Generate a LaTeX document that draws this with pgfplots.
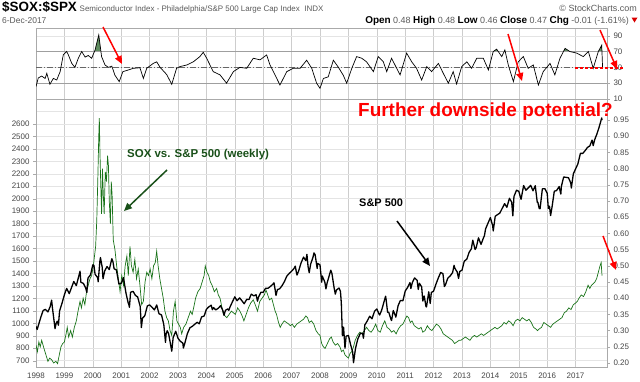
\documentclass[border=0pt]{standalone}
\usepackage{pgfplots}
\pgfplotsset{compat=1.18}
\usepackage{pgfplotstable}
\usepackage{fontspec}
\setmainfont{Liberation Sans}
\usetikzlibrary{arrows.meta}
\definecolor{gridc}{RGB}{228,228,228}
\definecolor{gridmaj}{RGB}{205,205,205}
\definecolor{framec}{RGB}{170,170,170}
\definecolor{labc}{RGB}{70,70,70}
\definecolor{sxgreen}{RGB}{25,115,25}
\definecolor{annogreen}{RGB}{25,80,25}
\definecolor{rsifill}{RGB}{95,140,95}
\definecolor{hdrgray}{RGB}{90,90,90}
\pgfplotsset{
  base/.style={
    scale only axis, width=571bp,
    xmin=1998, xmax=2018.106,
    axis line style={framec},
    tick style={framec},
    tick align=outside,
    major tick length=3bp, minor tick length=0pt,
    tick label style={font=\fontsize{8}{9}\selectfont, text=labc},
    /pgf/number format/assume math mode=true,
    /pgf/number format/1000 sep={},
    clip=true,
  }
}
\pgfplotstableread{
t v
1998.00 975
1998.04 950
1998.08 980
1998.17 1049
1998.25 1102
1998.33 1112
1998.42 1091
1998.50 1134
1998.55 1186
1998.58 1121
1998.67 957
1998.71 1000
1998.75 1017
1998.79 984
1998.83 1099
1998.92 1164
1999.00 1229
1999.08 1280
1999.17 1238
1999.25 1286
1999.33 1335
1999.42 1302
1999.50 1373
1999.55 1418
1999.58 1329
1999.67 1320
1999.75 1283
1999.79 1247
1999.83 1363
1999.92 1389
2000.00 1469
2000.04 1465
2000.08 1394
2000.17 1366
2000.19 1333
2000.25 1499
2000.27 1527
2000.33 1452
2000.36 1357
2000.42 1421
2000.50 1455
2000.58 1431
2000.67 1518
2000.71 1494
2000.75 1437
2000.83 1429
2000.92 1315
2001.00 1320
2001.08 1366
2001.17 1240
2001.25 1160
2001.27 1150
2001.29 1128
2001.33 1249
2001.42 1256
2001.50 1224
2001.58 1211
2001.67 1134
2001.71 966
2001.75 1041
2001.83 1060
2001.92 1139
2002.00 1148
2002.08 1130
2002.17 1107
2002.25 1147
2002.33 1077
2002.42 1067
2002.50 990
2002.56 847
2002.58 912
2002.62 940
2002.67 916
2002.75 815
2002.78 776
2002.83 886
2002.92 936
2003.00 880
2003.08 856
2003.17 841
2003.19 801
2003.25 848
2003.33 917
2003.42 964
2003.50 975
2003.58 990
2003.67 1008
2003.75 996
2003.83 1051
2003.92 1058
2004.00 1112
2004.08 1131
2004.17 1145
2004.21 1109
2004.25 1126
2004.33 1107
2004.42 1121
2004.50 1141
2004.58 1102
2004.62 1064
2004.67 1104
2004.75 1115
2004.79 1104
2004.83 1130
2004.92 1174
2005.00 1212
2005.08 1181
2005.17 1204
2005.25 1181
2005.33 1157
2005.42 1192
2005.50 1191
2005.58 1234
2005.67 1220
2005.75 1229
2005.80 1177
2005.83 1207
2005.92 1249
2006.00 1248
2006.08 1280
2006.17 1281
2006.25 1295
2006.33 1311
2006.38 1325
2006.42 1270
2006.45 1223
2006.50 1270
2006.58 1277
2006.67 1304
2006.75 1336
2006.83 1378
2006.92 1401
2007.00 1418
2007.08 1438
2007.13 1459
2007.17 1407
2007.19 1387
2007.25 1421
2007.33 1482
2007.42 1531
2007.50 1503
2007.54 1553
2007.58 1455
2007.62 1406
2007.67 1474
2007.75 1527
2007.79 1565
2007.83 1549
2007.90 1440
2007.92 1481
2008.00 1468
2008.06 1330
2008.08 1379
2008.17 1331
2008.21 1276
2008.25 1323
2008.33 1386
2008.38 1426
2008.42 1400
2008.50 1280
2008.54 1234
2008.58 1267
2008.67 1283
2008.72 1256
2008.75 1165
2008.79 900
2008.83 969
2008.88 800
2008.92 896
2009.00 903
2009.08 826
2009.15 770
2009.18 683
2009.25 798
2009.33 873
2009.42 919
2009.50 919
2009.53 880
2009.58 987
2009.67 1021
2009.75 1057
2009.83 1036
2009.92 1096
2010.00 1115
2010.08 1074
2010.10 1066
2010.17 1104
2010.25 1169
2010.31 1217
2010.33 1187
2010.38 1088
2010.42 1089
2010.50 1031
2010.52 1022
2010.58 1102
2010.65 1064
2010.67 1049
2010.75 1141
2010.83 1183
2010.92 1181
2011.00 1258
2011.08 1286
2011.17 1327
2011.20 1279
2011.25 1326
2011.33 1364
2011.42 1345
2011.46 1271
2011.50 1321
2011.58 1292
2011.62 1178
2011.67 1219
2011.73 1136
2011.75 1131
2011.83 1253
2011.88 1159
2011.92 1247
2012.00 1258
2012.08 1312
2012.17 1366
2012.25 1408
2012.33 1398
2012.38 1295
2012.42 1310
2012.50 1362
2012.58 1379
2012.67 1407
2012.72 1465
2012.75 1441
2012.83 1412
2012.88 1360
2012.92 1416
2013.00 1426
2013.08 1498
2013.17 1515
2013.25 1569
2013.33 1598
2013.38 1667
2013.42 1631
2013.46 1592
2013.50 1606
2013.58 1686
2013.67 1633
2013.75 1682
2013.79 1703
2013.83 1757
2013.92 1806
2014.00 1848
2014.08 1783
2014.10 1741
2014.17 1859
2014.25 1872
2014.33 1884
2014.42 1924
2014.50 1960
2014.58 1931
2014.67 2003
2014.75 1972
2014.79 1862
2014.83 2018
2014.92 2068
2015.00 2059
2015.08 1995
2015.17 2105
2015.25 2068
2015.33 2086
2015.42 2107
2015.50 2063
2015.58 2104
2015.65 1971
2015.67 1972
2015.72 1921
2015.75 1920
2015.83 2079
2015.92 2080
2016.00 2044
2016.04 1922
2016.08 1940
2016.12 1865
2016.17 1932
2016.25 2060
2016.33 2065
2016.42 2097
2016.48 2037
2016.50 2099
2016.58 2174
2016.67 2171
2016.75 2168
2016.83 2126
2016.85 2085
2016.92 2199
2017.00 2239
2017.08 2279
2017.17 2364
2017.25 2363
2017.33 2384
2017.42 2412
2017.50 2423
2017.58 2470
2017.62 2426
2017.67 2472
2017.75 2519
2017.83 2575
2017.92 2648
2017.93 2630
}\spx
\pgfplotstableread{
t v
1998.00 0.255
1998.05 0.235
1998.10 0.265
1998.15 0.250
1998.20 0.270
1998.28 0.245
1998.35 0.225
1998.42 0.205
1998.48 0.215
1998.55 0.210
1998.62 0.200
1998.70 0.205
1998.76 0.198
1998.82 0.225
1998.88 0.250
1998.94 0.260
1999.00 0.265
1999.06 0.290
1999.10 0.310
1999.15 0.280
1999.22 0.300
1999.28 0.280
1999.35 0.310
1999.42 0.330
1999.48 0.360
1999.55 0.390
1999.60 0.370
1999.66 0.400
1999.72 0.380
1999.78 0.420
1999.84 0.440
1999.90 0.460
1999.96 0.470
2000.02 0.500
2000.06 0.530
2000.10 0.560
2000.14 0.640
2000.18 0.780
2000.21 0.900
2000.23 0.956
2000.25 0.860
2000.28 0.750
2000.31 0.660
2000.34 0.800
2000.37 0.720
2000.40 0.660
2000.44 0.790
2000.48 0.760
2000.52 0.840
2000.55 0.810
2000.58 0.700
2000.62 0.630
2000.65 0.760
2000.68 0.720
2000.72 0.580
2000.78 0.550
2000.84 0.500
2000.90 0.460
2000.96 0.420
2001.02 0.470
2001.08 0.440
2001.14 0.500
2001.20 0.530
2001.25 0.470
2001.31 0.560
2001.36 0.500
2001.42 0.480
2001.48 0.520
2001.54 0.460
2001.60 0.490
2001.66 0.440
2001.72 0.380
2001.78 0.390
2001.84 0.450
2001.90 0.480
2001.96 0.470
2002.02 0.490
2002.08 0.460
2002.14 0.500
2002.20 0.510
2002.25 0.545
2002.30 0.500
2002.36 0.460
2002.42 0.430
2002.48 0.400
2002.54 0.360
2002.60 0.340
2002.66 0.330
2002.72 0.300
2002.78 0.285
2002.84 0.360
2002.90 0.390
2002.96 0.330
2003.02 0.320
2003.08 0.310
2003.13 0.290
2003.20 0.310
2003.28 0.320
2003.36 0.340
2003.44 0.360
2003.50 0.350
2003.55 0.370
2003.62 0.400
2003.70 0.420
2003.78 0.430
2003.85 0.450
2003.92 0.470
2003.96 0.500
2004.02 0.480
2004.08 0.470
2004.14 0.450
2004.20 0.440
2004.28 0.420
2004.36 0.430
2004.42 0.410
2004.48 0.400
2004.55 0.370
2004.60 0.350
2004.66 0.345
2004.72 0.340
2004.80 0.350
2004.88 0.360
2004.95 0.355
2005.02 0.350
2005.10 0.370
2005.18 0.360
2005.26 0.345
2005.32 0.330
2005.40 0.350
2005.48 0.370
2005.56 0.385
2005.65 0.395
2005.72 0.380
2005.80 0.360
2005.88 0.390
2005.96 0.400
2006.04 0.410
2006.10 0.425
2006.16 0.410
2006.22 0.395
2006.30 0.400
2006.36 0.380
2006.42 0.360
2006.47 0.350
2006.54 0.325
2006.60 0.310
2006.66 0.320
2006.74 0.330
2006.82 0.325
2006.90 0.320
2006.96 0.315
2007.02 0.320
2007.10 0.310
2007.18 0.320
2007.26 0.325
2007.34 0.330
2007.42 0.335
2007.50 0.345
2007.56 0.340
2007.62 0.325
2007.70 0.330
2007.78 0.320
2007.86 0.300
2007.94 0.290
2008.00 0.285
2008.06 0.260
2008.12 0.250
2008.18 0.245
2008.26 0.260
2008.34 0.275
2008.40 0.280
2008.46 0.265
2008.54 0.255
2008.62 0.260
2008.70 0.250
2008.76 0.235
2008.82 0.240
2008.88 0.225
2008.94 0.220
2009.00 0.215
2009.06 0.230
2009.12 0.235
2009.18 0.250
2009.24 0.270
2009.32 0.285
2009.40 0.295
2009.48 0.290
2009.56 0.300
2009.64 0.310
2009.72 0.300
2009.80 0.295
2009.88 0.305
2009.96 0.320
2010.04 0.300
2010.12 0.295
2010.20 0.315
2010.28 0.330
2010.36 0.310
2010.44 0.305
2010.52 0.295
2010.60 0.300
2010.68 0.290
2010.76 0.305
2010.84 0.315
2010.92 0.320
2011.00 0.335
2011.06 0.345
2011.12 0.340
2011.18 0.325
2011.24 0.330
2011.32 0.315
2011.40 0.310
2011.48 0.305
2011.56 0.310
2011.62 0.295
2011.70 0.300
2011.78 0.315
2011.86 0.305
2011.94 0.300
2012.02 0.310
2012.10 0.320
2012.18 0.315
2012.26 0.305
2012.34 0.290
2012.42 0.285
2012.50 0.280
2012.58 0.275
2012.66 0.270
2012.74 0.260
2012.82 0.265
2012.90 0.270
2012.96 0.270
2013.04 0.275
2013.12 0.280
2013.20 0.275
2013.28 0.270
2013.36 0.280
2013.44 0.285
2013.52 0.280
2013.60 0.285
2013.68 0.290
2013.76 0.285
2013.84 0.290
2013.92 0.295
2014.00 0.300
2014.08 0.305
2014.16 0.310
2014.24 0.305
2014.32 0.310
2014.40 0.315
2014.48 0.325
2014.56 0.320
2014.64 0.330
2014.72 0.325
2014.80 0.315
2014.88 0.330
2014.96 0.335
2015.04 0.330
2015.12 0.340
2015.20 0.335
2015.28 0.330
2015.36 0.335
2015.44 0.325
2015.52 0.310
2015.60 0.305
2015.66 0.300
2015.72 0.305
2015.80 0.310
2015.88 0.325
2015.96 0.320
2016.04 0.315
2016.12 0.310
2016.20 0.320
2016.28 0.325
2016.36 0.330
2016.44 0.335
2016.52 0.340
2016.60 0.355
2016.68 0.360
2016.76 0.370
2016.84 0.365
2016.92 0.380
2017.00 0.385
2017.06 0.390
2017.12 0.400
2017.20 0.410
2017.28 0.405
2017.36 0.420
2017.44 0.440
2017.50 0.430
2017.56 0.440
2017.62 0.445
2017.68 0.450
2017.74 0.460
2017.80 0.480
2017.86 0.500
2017.90 0.510
2017.93 0.470
}\ratio
\pgfplotstableread{
t v
1998.00 25.6
1998.08 36.6
1998.20 39
1998.32 36
1998.38 42.5
1998.49 28.6
1998.61 36
1998.73 34
1998.85 44.6
1998.96 65.7
1999.08 70
1999.14 65.7
1999.26 55
1999.37 50
1999.49 61.5
1999.61 70
1999.73 63
1999.84 65
1999.96 61.5
2000.08 72
2000.21 91
2000.25 80
2000.31 63.6
2000.43 53
2000.55 50
2000.67 51.5
2000.78 40
2000.93 32
2001.06 44.6
2001.19 46
2001.43 48.8
2001.66 49.5
2001.78 36
2001.90 48.8
2002.13 55
2002.25 57
2002.37 50
2002.60 41
2002.78 28.6
2002.95 48.8
2003.07 51
2003.31 53
2003.54 57
2003.77 63.6
2003.89 69
2004.01 61.5
2004.24 44.6
2004.48 40.5
2004.71 30
2004.95 44.6
2005.18 50
2005.42 48.8
2005.65 61.5
2005.89 59.5
2006.12 65.7
2006.24 53
2006.36 44.6
2006.59 27.7
2006.83 44.6
2007.06 48.8
2007.30 48.8
2007.53 59
2007.71 48.8
2007.88 30
2008.00 23.5
2008.12 36
2008.29 38
2008.47 59
2008.64 50.5
2008.82 40
2008.94 30
2009.12 48.8
2009.29 63.6
2009.47 61.5
2009.64 57
2009.88 44.6
2010.05 63.6
2010.23 57
2010.35 44.6
2010.52 61.5
2010.70 48.8
2010.82 40.5
2011.05 68
2011.23 57
2011.40 48.8
2011.58 34
2011.76 51
2011.93 44.6
2012.17 55
2012.34 42.5
2012.52 30
2012.69 44.6
2012.81 29
2012.99 51
2013.17 57
2013.34 48.8
2013.52 61.5
2013.75 61.5
2013.93 46.7
2014.10 70
2014.22 73
2014.40 63.6
2014.51 72
2014.63 53
2014.81 32
2014.98 57
2015.16 63.6
2015.33 48.8
2015.51 53
2015.69 27.7
2015.86 44.6
2016.10 55
2016.27 40.5
2016.45 61.5
2016.63 74
2016.80 70
2017.04 68
2017.27 63.6
2017.45 70
2017.62 48.8
2017.80 70
2017.92 78
2017.95 49.6
}\rsi
\begin{document}
\begin{tikzpicture}
\path[use as bounding box] (0bp,0bp) rectangle (640bp,-382bp);

% ---------- top panel ----------
\begin{axis}[base, at={(36bp,-99bp)}, anchor=south west, height=71.2bp,
  ymin=10, ymax=100,
  xtick={1998,...,2017}, minor x tick num=1,
  xmajorticks=false, xminorticks=false,
  xmajorgrids=true, xminorgrids=true, ymajorgrids=true,
  ytick={10,30,50,70,90}, ytick pos=right,
  major grid style={gridmaj, line width=0.4bp}, minor grid style={gridc, line width=0.4bp},
  y grid style={gridc}]
\begin{scope}
\clip (axis cs:1998,70) rectangle (axis cs:2018.106,100);
\addplot[fill=rsifill, draw=none] table[x=t,y=v]{\rsi} \closedcycle;
\end{scope}
\addplot[gray!75, line width=1.2bp, forget plot] coordinates {(1998,70) (2018.106,70)};
\addplot[gray!75, line width=1.2bp, forget plot] coordinates {(1998,30) (2018.106,30)};
\addplot[gray!80!black, line width=0.6bp, dash pattern=on 6bp off 2bp on 1bp off 2bp, forget plot] coordinates {(1998,50) (2018.106,50)};
\addplot[black, line width=0.7bp] table[x=t,y=v]{\rsi};
\end{axis}

% ---------- main panel: grid and left axis ----------
\begin{axis}[base, at={(36bp,-367.5bp)}, anchor=south west, height=268.5bp,
  ymin=645, ymax=2800,
  xtick={1998,...,2017}, minor x tick num=1, xtick pos=bottom,
  x tick style={draw=none},
  ytick={700,800,...,2600}, minor ytick={2700}, ytick pos=left,
  grid=both, major grid style={gridmaj, line width=0.4bp}, minor grid style={gridc, line width=0.4bp},
  y grid style={gridc, line width=0.4bp},
  xticklabel style={yshift=1.5bp}]
\end{axis}

% ---------- main panel: ratio on right axis ----------
\begin{axis}[base, at={(36bp,-367.5bp)}, anchor=south west, height=268.5bp,
  ymin=0.186, ymax=1.015,
  hide x axis, axis y line*=right,
  ytick={0.20,0.25,0.30,0.35,0.40,0.45,0.50,0.55,0.60,0.65,0.70,0.75,0.80,0.85,0.90,0.95},
  yticklabel style={/pgf/number format/.cd, fixed, fixed zerofill, precision=2}]
\addplot[sxgreen, line width=0.7bp] table[x=t,y=v]{\ratio};
\end{axis}

% ---------- main panel: S&P 500 on left scale ----------
\begin{axis}[base, at={(36bp,-367.5bp)}, anchor=south west, height=268.5bp,
  ymin=645, ymax=2800, hide axis]
\addplot[black, line width=1.3bp, line join=round] table[x=t,y=v]{\spx};
\end{axis}

% ---------- header ----------
\node[anchor=base west, inner sep=0pt] at (2bp,-11.5bp)
  {{\bfseries\fontsize{13.5}{15}\selectfont \$SOX:\$SPX}\ {\color{hdrgray}\fontsize{8}{9}\selectfont Semiconductor Index - Philadelphia/S\&P 500 Large Cap Index\ \ INDX}};
\node[anchor=base east, inner sep=0pt, text=hdrgray, font=\fontsize{9}{10}\selectfont] at (637bp,-11.5bp) {© StockCharts.com};
\node[anchor=base west, inner sep=0pt, text=hdrgray, font=\fontsize{8.5}{10}\selectfont] at (2bp,-23bp) {6-Dec-2017};
\node[anchor=base east, inner sep=0pt, font=\fontsize{9}{10}\selectfont, text=hdrgray] at (629bp,-23bp)
  {{\color{black}\bfseries\fontsize{10}{11}\selectfont Open} 0.48 {\color{black}\bfseries\fontsize{10}{11}\selectfont High} 0.48 {\color{black}\bfseries\fontsize{10}{11}\selectfont Low} 0.46 {\color{black}\bfseries\fontsize{10}{11}\selectfont Close} 0.47 {\color{black}\bfseries\fontsize{10}{11}\selectfont Chg} -0.01 (-1.61\%)};
\fill[red!85!black] (631.5bp,-17.5bp) -- (637.5bp,-17.5bp) -- (634.5bp,-22.5bp) -- cycle;

% ---------- annotations ----------
\tikzset{ar/.style={line width=1.5bp, -{Triangle[length=8bp,width=7bp]}}}
\draw[ar, red] (103bp,-27bp) -- (122bp,-64bp);
\draw[ar, red] (508bp,-34bp) -- (522bp,-81bp);
\draw[ar, red] (600bp,-30bp) -- (617bp,-69bp);
\draw[red, line width=1.4bp, dash pattern=on 3bp off 2bp] (575bp,-68bp) -- (624bp,-68bp);
\draw[ar, red] (603bp,-236bp) -- (616bp,-270bp);
\draw[ar, annogreen] (167bp,-170bp) -- (124bp,-211bp);
\draw[ar, black] (397bp,-221bp) -- (430bp,-266bp);

\node[anchor=base west, inner sep=0pt, text=red, font=\bfseries\fontsize{19}{22}\selectfont] at (358bp,-116.7bp) {Further downside potential?};
\node[anchor=base west, inner sep=0pt, text=annogreen, font=\bfseries\fontsize{11.5}{13}\selectfont] at (127bp,-157.3bp) {SOX vs. S\&P 500 (weekly)};
\node[anchor=base west, inner sep=0pt, text=black, font=\bfseries\fontsize{11}{13}\selectfont] at (359bp,-206.7bp) {S\&P 500};
\end{tikzpicture}
\end{document}
